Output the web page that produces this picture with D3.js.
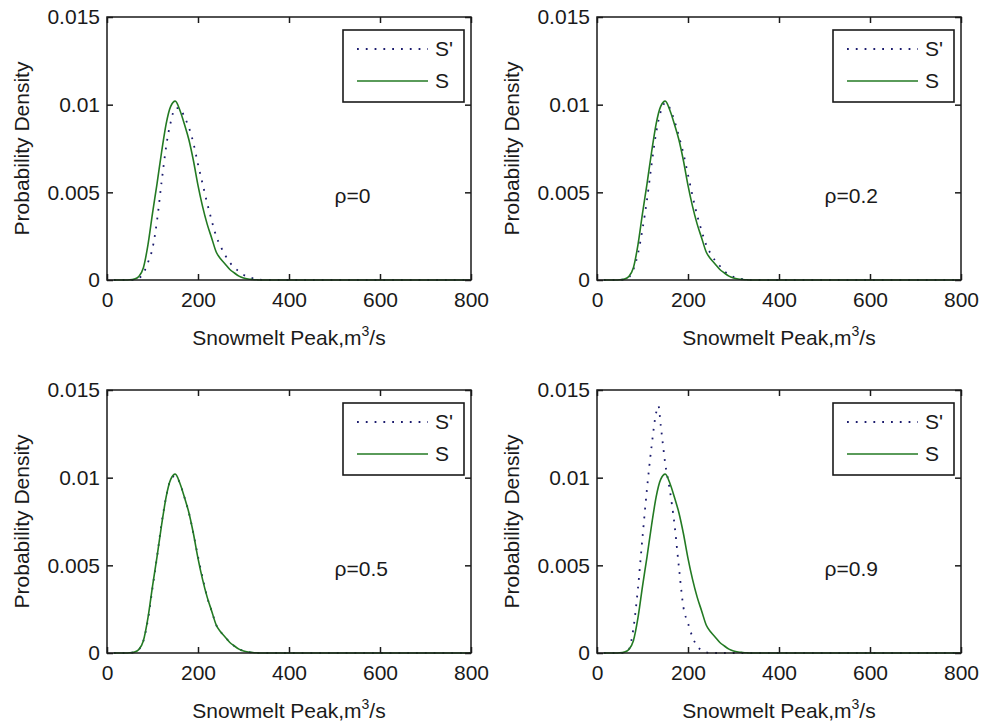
<!DOCTYPE html>
<html>
<head>
<meta charset="utf-8">
<script src="https://cdn.jsdelivr.net/npm/d3@7"></script>
<style>
  body { margin: 0; background: #fff; }
  svg { display: block; }
  text { font-family: "Liberation Sans", Arial, sans-serif; fill: #1a1a1a; }
</style>
</head>
<body>
<div id="chart"></div>
<script>
// x grid of the density estimates (m^3/s)
const peaks = [15, 30, 40, 50, 60, 70, 80, 90, 100, 110, 120, 130, 135, 140, 150, 160, 170, 180, 190,
  200, 210, 220, 230, 240, 250, 260, 270, 280, 290, 300, 310, 320, 330, 340, 350, 360, 800];

// S : the same curve in every panel
const densityS = [0, 0, 0, 0.00001, 0.00005, 0.0002, 0.0007, 0.0020, 0.0038, 0.0055, 0.0073, 0.0089, 0.0095,
  0.0099, 0.0102, 0.0097, 0.0089, 0.0080, 0.0068, 0.0054, 0.0042, 0.0032, 0.0024, 0.0016, 0.0012, 0.0009,
  0.0006, 0.0004, 0.00022, 0.00012, 0.00006, 0.00003, 0.00001, 0, 0, 0, 0];

// S' for each correlation
const densityS1_rho0 = [0, 0, 0, 0, 0.00002, 0.0001, 0.0004, 0.0010, 0.0018, 0.0034, 0.0056, 0.0076, 0.0084,
  0.0090, 0.0098, 0.0098, 0.0093, 0.0087, 0.0078, 0.0066, 0.0055, 0.0044, 0.0034, 0.0025, 0.0019, 0.0014,
  0.0010, 0.0007, 0.0005, 0.0003, 0.00018, 0.0001, 0.00004, 0.00001, 0, 0, 0];
const densityS1_rho2 = [0, 0, 0, 0.00001, 0.00003, 0.00015, 0.0006, 0.0015, 0.0029, 0.0046, 0.0066, 0.0084, 0.0091,
  0.0096, 0.0101, 0.0098, 0.0091, 0.0082, 0.0072, 0.0060, 0.0048, 0.0037, 0.0028, 0.0020, 0.0015, 0.0011,
  0.0008, 0.0005, 0.0003, 0.00018, 0.0001, 0.00005, 0.00002, 0, 0, 0, 0];
const densityS1_rho5 = [0, 0, 0, 0.00001, 0.00005, 0.0002, 0.0007, 0.0019, 0.0037, 0.0055, 0.0074, 0.0089, 0.0095,
  0.0099, 0.0101, 0.0097, 0.0089, 0.0080, 0.0068, 0.0055, 0.0043, 0.0032, 0.0024, 0.0016, 0.0012, 0.0009,
  0.0006, 0.0004, 0.00022, 0.00012, 0.00006, 0.00003, 0.00001, 0, 0, 0, 0];
const densityS1_rho9 = [0, 0, 0, 0, 0.00002, 0.0002, 0.0014, 0.0037, 0.0066, 0.0094, 0.0118, 0.0137, 0.0141,
  0.0130, 0.0108, 0.0093, 0.0074, 0.0049, 0.0026, 0.0017, 0.0009, 0.0004, 0.00015, 0.00004, 0, 0,
  0, 0, 0, 0, 0, 0, 0, 0, 0, 0, 0];

const rhoLabels = ["ρ=0", "ρ=0.2", "ρ=0.5", "ρ=0.9"];
const seriesS1 = [densityS1_rho0, densityS1_rho2, densityS1_rho5, densityS1_rho9];
const legendLabels = ["S'", "S"];
const xTicks = [0, 200, 400, 600, 800];
const yTicks = [0, 0.005, 0.01, 0.015];
const yTickLabels = ["0", "0.005", "0.01", "0.015"];

const width = 984, height = 723;
const fontSize = 21;
const colorS = "#237a23";
const colorS1 = "#1c1c6e";

const svg = d3.select("#chart").append("svg")
  .attr("width", width)
  .attr("height", height);

// panel boxes (left, top) in pixels
const panels = [
  { left: 107, top: 17 },
  { left: 597, top: 17 },
  { left: 107, top: 390 },
  { left: 597, top: 390 },
];
const pw = 364, ph = 263;

const x = d3.scaleLinear().domain([0, 800]).range([0, pw]);
const y = d3.scaleLinear().domain([0, 0.015]).range([ph, 0]);

const line = d3.line()
  .x((d) => x(d[0]))
  .y((d) => y(d[1]))
  .curve(d3.curveMonotoneX);

panels.forEach((p, i) => {
  const g = svg.append("g").attr("transform", `translate(${p.left},${p.top})`);

  // curves first, axes box on top
  const dataS = peaks.map((v, k) => [v, densityS[k]]);
  const dataS1 = peaks.map((v, k) => [v, seriesS1[i][k]]);

  g.append("path")
    .datum(dataS1)
    .attr("fill", "none")
    .attr("stroke", colorS1)
    .attr("stroke-width", 1.8)
    .attr("stroke-dasharray", "1.8,7")
    .attr("d", line);

  g.append("path")
    .datum(dataS)
    .attr("fill", "none")
    .attr("stroke", colorS)
    .attr("stroke-width", 1.6)
    .attr("d", line);

  // axes with inward ticks on all four sides
  const fmtX = (d) => String(d);
  const fmtY = (d) => yTickLabels[yTicks.indexOf(d)];

  const ax = g.append("g").attr("transform", `translate(0,${ph})`)
    .call(d3.axisBottom(x).tickValues(xTicks).tickFormat(fmtX).tickSizeInner(-6).tickSizeOuter(0).tickPadding(12));
  const ay = g.append("g")
    .call(d3.axisLeft(y).tickValues(yTicks).tickFormat(fmtY).tickSizeInner(-6).tickSizeOuter(0).tickPadding(7));
  const at = g.append("g")
    .call(d3.axisTop(x).tickValues(xTicks).tickFormat("").tickSizeInner(-6).tickSizeOuter(0));
  const ar = g.append("g").attr("transform", `translate(${pw},0)`)
    .call(d3.axisRight(y).tickValues(yTicks).tickFormat("").tickSizeInner(-6).tickSizeOuter(0));

  [ax, ay, at, ar].forEach((a) => {
    a.select(".domain").remove();
    a.selectAll(".tick line").attr("stroke", "#1a1a1a").attr("stroke-width", 1.5);
    a.selectAll(".tick text")
      .style("font-family", '"Liberation Sans", Arial, sans-serif')
      .style("font-size", fontSize + "px")
      .attr("fill", "#1a1a1a");
  });

  g.append("rect")
    .attr("width", pw)
    .attr("height", ph)
    .attr("fill", "none")
    .attr("stroke", "#1a1a1a")
    .attr("stroke-width", 1.5);

  // axis titles
  const xl = g.append("text")
    .attr("x", pw / 2)
    .attr("y", ph + 65)
    .attr("text-anchor", "middle")
    .style("font-size", fontSize + "px");
  xl.append("tspan").text("Snowmelt Peak,m");
  xl.append("tspan").attr("dy", -9).style("font-size", "14px").text("3");
  xl.append("tspan").attr("dy", 9).text("/s");

  g.append("text")
    .attr("transform", `translate(-78,${ph / 2}) rotate(-90)`)
    .attr("text-anchor", "middle")
    .style("font-size", fontSize + "px")
    .text("Probability Density");

  // correlation label
  g.append("text")
    .attr("x", x(500))
    .attr("y", y(0.0048))
    .attr("dy", "0.35em")
    .style("font-size", fontSize + "px")
    .text(rhoLabels[i]);

  // legend
  const lg = g.append("g").attr("transform", `translate(${pw - 128},13)`);
  lg.append("rect")
    .attr("width", 121)
    .attr("height", 72)
    .attr("fill", "#fff")
    .attr("stroke", "#1a1a1a")
    .attr("stroke-width", 1.6);
  legendLabels.forEach((lab, k) => {
    const ly = 19 + k * 32;
    lg.append("line")
      .attr("x1", 14).attr("x2", 85)
      .attr("y1", ly).attr("y2", ly)
      .attr("stroke", k === 0 ? colorS1 : colorS)
      .attr("stroke-width", k === 0 ? 1.8 : 1.6)
      .attr("stroke-dasharray", k === 0 ? "1.8,7" : null);
    lg.append("text")
      .attr("x", 92)
      .attr("y", ly)
      .attr("dy", "0.35em")
      .style("font-size", fontSize + "px")
      .text(lab);
  });
});
</script>
</body>
</html>
